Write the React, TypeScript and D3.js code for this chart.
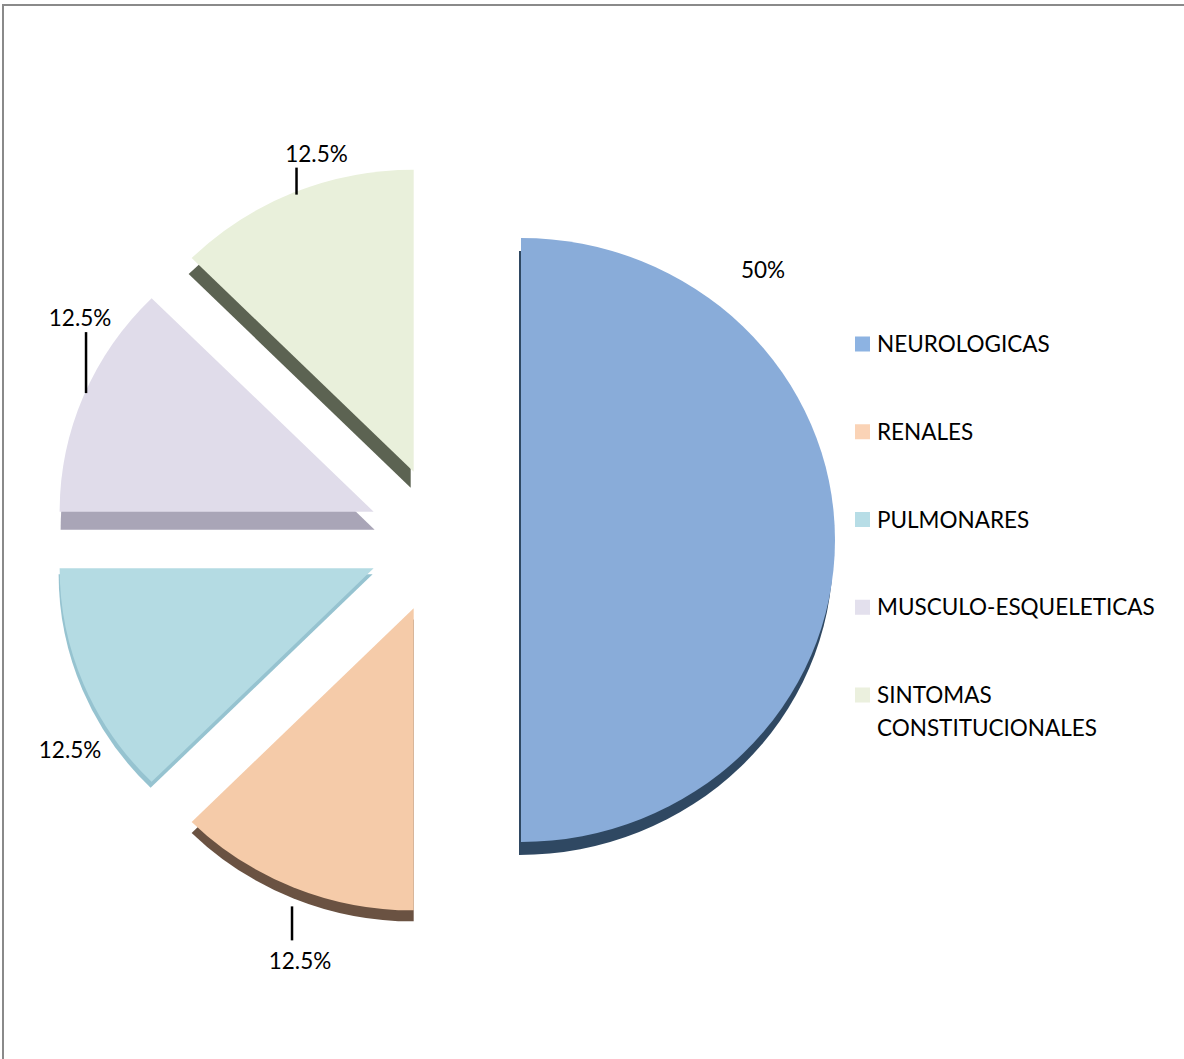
import React from "react";
import * as d3 from "d3";

const categories = [
  "NEUROLOGICAS",
  "RENALES",
  "PULMONARES",
  "MUSCULO-ESQUELETICAS",
  "SINTOMAS CONSTITUCIONALES",
];
const values = [50, 12.5, 12.5, 12.5, 12.5];
const valueLabels = ["50%", "12.5%", "12.5%", "12.5%", "12.5%"];

// styles
const faceColors = ["#89acd9", "#f5cba9", "#b4dbe3", "#e0dcea", "#e9f0db"];
const legendColors = ["#8db3e2", "#fad3b6", "#b7dde6", "#e3e0ed", "#ebf0de"];
const sideColors = ["#2f4862", "#6a5242", "#96c3d0", "#a9a5b7", "#5c6352"];
const sideShift: [number, number][] = [
  [-2, 13],
  [0, 11],
  [-1, 6],
  [1, 18],
  [-3, 16],
];
const explodeDist = [79, 74, 74, 74, 74];
const labelOffsets: [number, number][] = [
  [-72, -270],
  [6.5, 74],
  [-13.5, 66],
  [-3.5, -78],
  [23, -39],
];
const leaders: ([number, number, number, number] | null)[] = [
  null,
  [-1.5, 19, -1.5, 53],
  null,
  [2.5, -3, 2.5, -64],
  [3, 2, 3, -25],
];
const legendLines: string[][] = [
  ["NEUROLOGICAS"],
  ["RENALES"],
  ["PULMONARES"],
  ["MUSCULO-ESQUELETICAS"],
  ["SINTOMAS", "CONSTITUCIONALES"],
];

const W = 1184;
const H = 1059;
const cx = 442;
const cy = 540;
const rx = 314;
const ry = 302;
const FONT = "Lato, 'Open Sans', sans-serif";

export default function App() {
  const pie = d3
    .pie<number>()
    .sort(null)
    .value((d) => d);
  const arcs = pie(values);
  const arcGen = d3
    .arc<d3.PieArcDatum<number>>()
    .innerRadius(0)
    .outerRadius(rx);
  const sy = ry / rx;

  const legendY = d3
    .scalePoint<number>()
    .domain(d3.range(categories.length))
    .range([344, 695]);

  const apex = (a: d3.PieArcDatum<number>, i: number) => {
    const mid = (a.startAngle + a.endAngle) / 2;
    return [
      cx + Math.sin(mid) * explodeDist[i],
      cy - Math.cos(mid) * explodeDist[i],
      mid,
    ];
  };

  return (
    <svg
      width={W}
      height={H}
      style={{ position: "absolute", left: 0, top: 0, background: "#fff" }}
      fontFamily={FONT}
    >
      <rect x={0} y={0} width={W} height={H} fill="#fff" />
      <rect
        x={3}
        y={5}
        width={W + 10}
        height={H + 10}
        fill="none"
        stroke="#8a8a8a"
        strokeWidth={2}
      />
      {/* sides */}
      {arcs.map((a, i) => {
        const [ax, ay] = apex(a, i);
        const [sx, sdy] = sideShift[i];
        return (
          <path
            key={"s" + i}
            d={arcGen(a) || ""}
            fill={sideColors[i]}
            transform={`translate(${ax + sx},${ay + sdy}) scale(1,${sy})`}
          />
        );
      })}
      {/* faces */}
      {arcs.map((a, i) => {
        const [ax, ay] = apex(a, i);
        return (
          <path
            key={"f" + i}
            d={arcGen(a) || ""}
            fill={faceColors[i]}
            transform={`translate(${ax},${ay}) scale(1,${sy})`}
          />
        );
      })}
      {/* labels */}
      {arcs.map((a, i) => {
        const [ax, ay, mid] = apex(a, i);
        const bx = ax + Math.sin(mid) * rx;
        const by = ay - Math.cos(mid) * ry;
        const [ldx, ldy] = labelOffsets[i];
        const ld = leaders[i];
        return (
          <g key={"l" + i}>
            {ld && (
              <line
                x1={bx + ld[0]}
                y1={by + ld[1]}
                x2={bx + ld[2]}
                y2={by + ld[3]}
                stroke="#000"
                strokeWidth={2.5}
              />
            )}
            <text
              x={bx + ldx}
              y={by + ldy + 8}
              textAnchor="middle"
              fontSize={22.5}
              fill="#000"
            >
              {valueLabels[i]}
            </text>
          </g>
        );
      })}
      {/* legend */}
      {categories.map((c, i) => {
        const y = legendY(i) as number;
        return (
          <g key={"g" + c}>
            <rect x={855} y={y - 7.5} width={15} height={15} fill={legendColors[i]} />
            {legendLines[i].map((t, j) => (
              <text key={j} x={877} y={y + 8 + j * 33} fontSize={22.5} fill="#000">
                {t}
              </text>
            ))}
          </g>
        );
      })}
    </svg>
  );
}
